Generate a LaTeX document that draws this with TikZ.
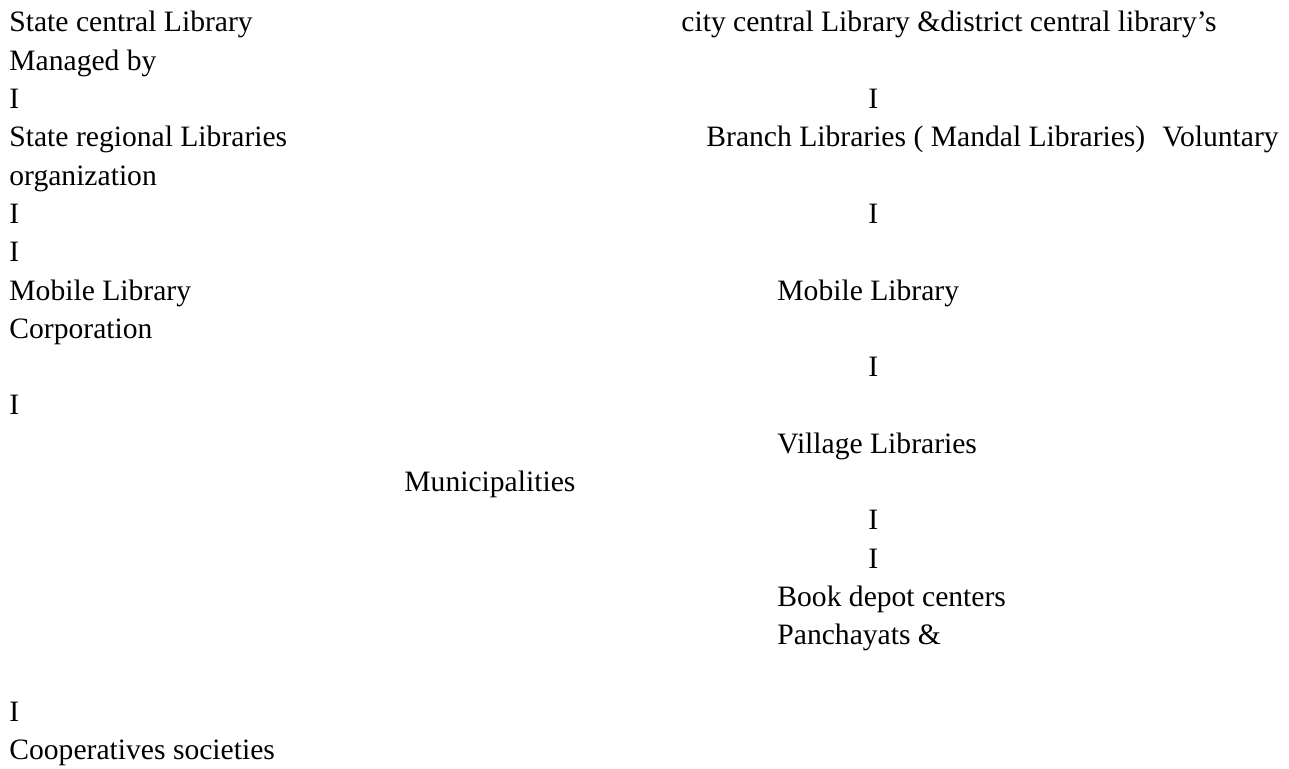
\documentclass[tikz,border=0pt]{standalone}
\usepackage{fontspec}
\setmainfont{Liberation Serif}
\usepackage{tikz}

\tikzset{
  txt/.style={anchor=base west, inner sep=0pt, font=\fontsize{14.8pt}{17pt}\selectfont}
}

\begin{document}
\begin{tikzpicture}[x=0.5pt, y=-0.5pt]
    % 0. Bidang gambar
    \useasboundingbox (0,0) rectangle (1289,769);

    % 1. Kolom kiri
    \node[txt] (statecentral) at (9, 32)    {State central Library};
    \node[txt] (managed)      at (9, 70.3)  {Managed by};
    \node[txt] (barA)         at (9, 108.6) {I};
    \node[txt] (regional)     at (9, 146.9) {State regional Libraries};
    \node[txt] (organization) at (9, 185.2) {organization};
    \node[txt] (barB)         at (9, 223.5) {I};
    \node[txt] (barC)         at (9, 261.8) {I};
    \node[txt] (mobileL)      at (9, 300.1) {Mobile Library};
    \node[txt] (corporation)  at (9, 338.4) {Corporation};
    \node[txt] (barD)         at (9, 415)   {I};

    % 2. Tengah
    \node[txt] (municipal)    at (404, 491.6) {Municipalities};

    % 3. Bawah kiri
    \node[txt] (barE)         at (9, 721.4) {I};
    \node[txt] (coop)         at (9, 759.7) {Cooperatives societies};

    % 4. Kolom kanan
    \node[txt] (citycentral)  at (681, 32)    {city central Library \&district central library’s};
    \node[txt] (barF)         at (868, 108.6) {I};
    \node[txt] (branch)       at (706, 146.9) {Branch Libraries ( Mandal Libraries)};
    \node[txt] (voluntary)    at (1162, 146.9) {Voluntary};
    \node[txt] (barG)         at (868, 223.5) {I};
    \node[txt] (mobileR)      at (777, 300.1) {Mobile Library};
    \node[txt] (barH)         at (868, 376.7) {I};
    \node[txt] (village)      at (777, 453.3) {Village Libraries};
    \node[txt] (barI)         at (868, 529.9) {I};
    \node[txt] (barJ)         at (868, 568.2) {I};
    \node[txt] (bookdepot)    at (777, 606.5) {Book depot centers};
    \node[txt] (panchayat)    at (777, 644.8) {Panchayats \&};
\end{tikzpicture}
\end{document}
